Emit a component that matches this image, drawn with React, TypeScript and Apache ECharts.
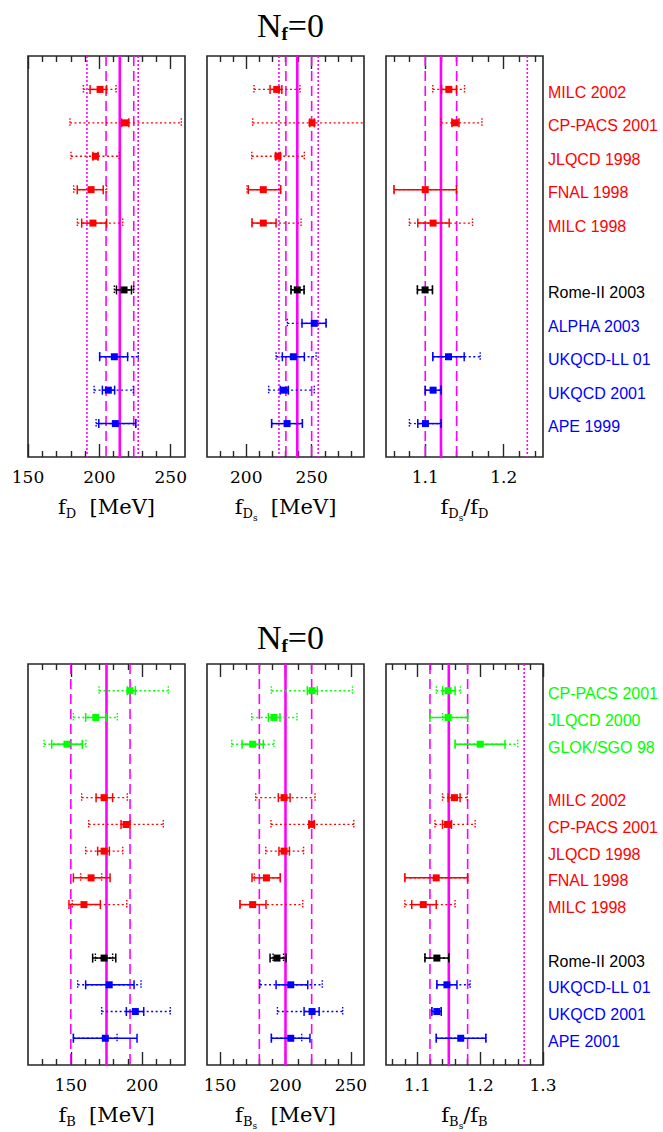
import React, { useEffect, useRef } from "react";
import * as echarts from "echarts";

// ---------------- DATA ----------------
// rows (slot index from the top of each panel)
const topNames = ["MILC 2002", "CP-PACS 2001", "JLQCD 1998", "FNAL 1998", "MILC 1998", "Rome-II 2003", "ALPHA 2003", "UKQCD-LL 01", "UKQCD 2001", "APE 1999"];
const topRows = [1, 2, 3, 4, 5, 7, 8, 9, 10, 11];
const topGroups = ["r", "r", "r", "r", "r", "k", "b", "b", "b", "b"];

const botNames = ["CP-PACS 2001", "JLQCD 2000", "GLOK/SGO 98", "MILC 2002", "CP-PACS 2001", "JLQCD 1998", "FNAL 1998", "MILC 1998", "Rome-II 2003", "UKQCD-LL 01", "UKQCD 2001", "APE 2001"];
const botRows = [1, 2, 3, 5, 6, 7, 8, 9, 11, 12, 13, 14];
const botGroups = ["g", "g", "g", "r", "r", "r", "r", "r", "k", "b", "b", "b"];

// each entry: [central, stat low, stat high, total low, total high] (null = no result)
const fD = [
  [200.5, 193.5, 205.1, 188.8, 211.7],
  [218.2, 215.6, 220.7, 179.4, 257.4],
  [197.2, 195.5, 199.0, 180.1, 214.0],
  [194.2, 184.5, 202.7, 182.0, 205.1],
  [195.5, 187.6, 205.1, 184.6, 216.4],
  [217.3, 212.0, 222.5, 210.5, 224.0],
  null,
  [210.5, 200.2, 219.8, 200.2, 227.3],
  [206.3, 202.1, 210.7, 196.3, 223.8],
  [211.2, 199.6, 225.5, 197.7, 225.5],
];
const fDs = [
  [223.3, 218.2, 227.2, 205.9, 241.1],
  [250.3, 248.5, 252.0, 204.9, 295.0],
  [224.3, 222.5, 226.0, 204.2, 244.4],
  [213.0, 201.6, 226.3, 200.6, 226.3],
  [213.0, 204.4, 222.8, 204.4, 241.9],
  [239.0, 234.2, 244.2, 234.2, 244.2],
  [252.0, 242.6, 261.0, 231.4, 261.0],
  [236.0, 227.6, 244.4, 222.8, 253.4],
  [229.1, 226.0, 232.2, 217.1, 252.0],
  [231.2, 219.4, 242.9, 219.4, 242.9],
];
const fDsOverfD = [
  [1.130, 1.1207, 1.1398, 1.1096, 1.150],
  [1.138, 1.134, 1.143, 1.1202, 1.1722],
  null,
  [1.100, 1.0602, 1.1398, 1.0602, 1.1398],
  [1.110, 1.0905, 1.1305, 1.0798, 1.1602],
  [1.0998, 1.090, 1.1092, 1.090, 1.1092],
  null,
  [1.1296, 1.1096, 1.1496, 1.1096, 1.170],
  [1.110, 1.100, 1.1202, 1.100, 1.1202],
  [1.1002, 1.0905, 1.1202, 1.0798, 1.1202],
];
const fB = [
  [191.5, 189.6, 195.2, 169.8, 218.3],
  [167.5, 160.4, 174.7, 151.8, 182.6],
  [147.3, 136.6, 158.0, 131.2, 160.6],
  [173.3, 167.7, 179.3, 157.6, 189.6],
  [188.7, 185.2, 191.5, 162.5, 214.8],
  [173.3, 168.8, 177.0, 160.4, 186.4],
  [164.2, 151.8, 177.5, 156.9, 171.6],
  [159.2, 148.7, 170.7, 151.0, 189.2],
  [173.3, 165.3, 181.5, 167.2, 179.3],
  [176.9, 160.4, 194.3, 154.8, 199.2],
  [195.2, 188.9, 201.1, 171.6, 219.7],
  [174.2, 151.8, 196.4, 151.8, 182.4],
];
const fBs = [
  [220.3, 216.7, 224.3, 189.2, 251.2],
  [191.2, 186.9, 195.8, 174.2, 208.8],
  [174.9, 166.8, 183.0, 158.9, 191.2],
  [198.9, 194.5, 203.5, 177.2, 222.6],
  [220.0, 218.0, 222.0, 188.9, 252.2],
  [198.9, 195.0, 203.0, 184.9, 213.8],
  [185.4, 174.4, 196.0, 176.2, 196.0],
  [174.9, 165.2, 185.1, 165.2, 213.2],
  [193.5, 188.2, 200.4, 190.5, 198.5],
  [204.0, 192.8, 217.0, 180.5, 228.1],
  [220.3, 214.2, 225.7, 193.8, 243.7],
  [204.0, 189.2, 218.7, 189.2, 212.4],
];
const fBsOverfB = [
  [1.149, 1.140, 1.160, 1.130, 1.1685],
  [1.149, 1.120, 1.180, 1.140, 1.180],
  [1.200, 1.160, 1.2395, 1.160, 1.2597],
  [1.159, 1.149, 1.168, 1.140, 1.1795],
  [1.148, 1.140, 1.1543, 1.128, 1.192],
  null,
  [1.130, 1.080, 1.180, 1.080, 1.180],
  [1.1094, 1.091, 1.130, 1.080, 1.160],
  [1.131, 1.112, 1.150, 1.112, 1.150],
  [1.147, 1.131, 1.163, 1.131, 1.184],
  [1.131, 1.123, 1.138, 1.123, 1.138],
  [1.169, 1.130, 1.209, 1.130, 1.209],
];

// average lines: central, band (dashed), outer (dotted)
const fDCentral = 214.3, fDBand = [204.7, 224.1], fDOuter = [191.3, 227.2];
const fDsCentral = 239, fDsBand = [230.3, 250], fDsOuter = [225, 255];
const fDsfDCentral = 1.12, fDsfDBand = [1.10, 1.14], fDsfDOuter = [1.23];
const fBCentral = 175, fBBand = [150, 191.5], fBOuter: number[] = [];
const fBsCentral = 200, fBsBand = [180, 220], fBsOuter: number[] = [];
const fBsfBCentral = 1.15, fBsfBBand = [1.12, 1.18], fBsfBOuter = [1.27];

// tick labels / ticks
const fDMajor = [150, 200, 250], fDMinor = [160, 170, 180, 190, 210, 220, 230, 240];
const fDsMajor = [200, 250], fDsMinor = [180, 190, 210, 220, 230, 240, 260, 270, 280];
const rDMajor = [1.1, 1.2], rDMinor = [1.06, 1.08, 1.12, 1.14, 1.16, 1.18, 1.22, 1.24];
const fBMajor = [150, 200], fBMinor = [130, 140, 160, 170, 180, 190, 210, 220];
const fBsMajor = [150, 200, 250], fBsMinor = [160, 170, 180, 190, 210, 220, 230, 240];
const rBMajor = [1.1, 1.2, 1.3], rBMinor = [1.06, 1.08, 1.12, 1.14, 1.16, 1.18, 1.22, 1.24, 1.26, 1.28];

// ---------------- STYLE ----------------
const COLORS: Record<string, string> = { r: "#ff0000", k: "#000000", b: "#0000ff", g: "#00ff00" };
const MAG = "#ff00ff";
const FRAME = "#262626";
const SERIF = "DejaVu Serif";
const SANS = "Liberation Sans";

const nameRich = {
  m: { fontFamily: SERIF, fontSize: 21, lineHeight: 30, color: "#000" },
  s: { fontFamily: SERIF, fontSize: 13, lineHeight: 30, padding: [13, 0, 0, 0], color: "#000" },
  ss: { fontFamily: SERIF, fontSize: 9, lineHeight: 30, padding: [21, 0, 0, 0], color: "#000" },
};

const panels = [
  { left: 28, top: 56, min: 150, max: 260, rowsMax: 12, majors: fDMajor, minors: fDMinor, data: fD, rows: topRows, groups: topGroups, names: null as any, central: fDCentral, band: fDBand, outer: fDOuter, name: "{m|f}{s|D}{m|  [MeV]}" },
  { left: 207, top: 56, min: 170, max: 290, rowsMax: 12, majors: fDsMajor, minors: fDsMinor, data: fDs, rows: topRows, groups: topGroups, names: null, central: fDsCentral, band: fDsBand, outer: fDsOuter, name: "{m|f}{s|D}{ss|s}{m|  [MeV]}" },
  { left: 386, top: 56, min: 1.05, max: 1.25, rowsMax: 12, majors: rDMajor, minors: rDMinor, data: fDsOverfD, rows: topRows, groups: topGroups, names: topNames, central: fDsfDCentral, band: fDsfDBand, outer: fDsfDOuter, name: "{m|f}{s|D}{ss|s}{m|/f}{s|D}" },
  { left: 28, top: 664, min: 120, max: 230, rowsMax: 15, majors: fBMajor, minors: fBMinor, data: fB, rows: botRows, groups: botGroups, names: null, central: fBCentral, band: fBBand, outer: fBOuter, name: "{m|f}{s|B}{m|  [MeV]}" },
  { left: 207, top: 664, min: 140, max: 260, rowsMax: 15, majors: fBsMajor, minors: fBsMinor, data: fBs, rows: botRows, groups: botGroups, names: null, central: fBsCentral, band: fBsBand, outer: fBsOuter, name: "{m|f}{s|B}{ss|s}{m|  [MeV]}" },
  { left: 386, top: 664, min: 1.05, max: 1.30, rowsMax: 15, majors: rBMajor, minors: rBMinor, data: fBsOverfB, rows: botRows, groups: botGroups, names: botNames, central: fBsfBCentral, band: fBsfBBand, outer: fBsfBOuter, name: "{m|f}{s|B}{ss|s}{m|/f}{s|B}" },
];

function buildOption() {
  const grid: any[] = [];
  const xAxis: any[] = [];
  const yAxis: any[] = [];
  const series: any[] = [];

  panels.forEach((p, g) => {
    grid.push({ left: p.left, top: p.top, width: 157, height: 401, show: true, borderColor: FRAME, borderWidth: 1.6, backgroundColor: "transparent" });
    const base = { type: "value", gridIndex: g, min: p.min, max: p.max, splitLine: { show: false }, axisLine: { show: false, onZero: false } };
    const tickStyle = { color: FRAME, width: 1.4 };
    xAxis.push({
      ...base, position: "bottom",
      axisTick: { show: true, inside: true, length: 13, customValues: p.majors, lineStyle: tickStyle },
      axisLabel: { show: true, customValues: p.majors, formatter: (v: number) => String(v), fontFamily: SERIF, fontSize: 17, color: "#000", margin: 11 },
      name: p.name, nameLocation: "middle", nameGap: 35,
      nameTextStyle: { rich: nameRich },
    });
    xAxis.push({ ...base, position: "bottom", axisTick: { show: true, inside: true, length: 6, customValues: p.minors, lineStyle: tickStyle }, axisLabel: { show: false } });
    xAxis.push({ ...base, position: "top", axisTick: { show: true, inside: true, length: 13, customValues: p.majors, lineStyle: tickStyle }, axisLabel: { show: false } });
    xAxis.push({ ...base, position: "top", axisTick: { show: true, inside: true, length: 6, customValues: p.minors, lineStyle: tickStyle }, axisLabel: { show: false } });

    const names = p.names;
    const lab = (c: string) => ({ color: c, fontFamily: SANS, fontSize: 16, lineHeight: 22, padding: [6, 0, 0, 0] });
    yAxis.push({
      type: "value", gridIndex: g, min: 0, max: p.rowsMax, inverse: true, position: "right",
      show: !!names,
      axisLine: { show: false, onZero: false }, axisTick: { show: false }, splitLine: { show: false },
      axisLabel: names ? {
        show: true, customValues: p.rows, margin: 5,
        formatter: (v: number) => {
          const i = p.rows.indexOf(v);
          return i < 0 ? "" : `{${p.groups[i]}|${names[i]}}`;
        },
        rich: { r: lab(COLORS.r), k: lab(COLORS.k), b: lab(COLORS.b), g: lab(COLORS.g) },
      } : { show: false },
    });

    // vertical average lines
    const vlines: number[][] = [[p.central, 0]];
    p.band.forEach((v) => vlines.push([v, 1]));
    p.outer.forEach((v) => vlines.push([v, 2]));
    series.push({
      type: "custom", xAxisIndex: g * 4, yAxisIndex: g, z: 1, clip: true, silent: true,
      data: vlines,
      encode: { x: 0 },
      renderItem: (params: any, api: any) => {
        const v = api.value(0);
        const kind = api.value(1);
        const a = api.coord([v, 0]);
        const b = api.coord([v, p.rowsMax]);
        const style: any = { stroke: MAG, lineWidth: kind === 0 ? 2.6 : 1.6, fill: null };
        if (kind === 1) style.lineDash = [10, 5];
        if (kind === 2) style.lineDash = [2, 2];
        return { type: "line", shape: { x1: a[0], y1: a[1], x2: b[0], y2: b[1] }, style };
      },
    });

    // error bars
    const items: any[] = [];
    p.data.forEach((d, i) => {
      if (!d) return;
      items.push([d[0], p.rows[i], d[1], d[2], d[3], d[4], i]);
    });
    series.push({
      type: "custom", xAxisIndex: g * 4, yAxisIndex: g, z: 5, clip: true, silent: true,
      data: items,
      encode: { x: 0, y: 1 },
      renderItem: (params: any, api: any) => {
        const c = api.value(0), row = api.value(1);
        const sLo = api.value(2), sHi = api.value(3), tLo = api.value(4), tHi = api.value(5);
        const gi = api.value(6);
        const color = COLORS[p.groups[gi]];
        const children: any[] = [];
        const capH = 4.5;
        const dotted = { stroke: color, lineWidth: 1.4, lineDash: [2, 2.5], fill: null };
        const solid = { stroke: color, lineWidth: 1.5, fill: null };
        const tl = api.coord([tLo, row]), th = api.coord([tHi, row]);
        children.push({ type: "line", shape: { x1: tl[0], y1: tl[1], x2: th[0], y2: th[1] }, style: dotted });
        [tl, th].forEach((pt) => children.push({ type: "line", shape: { x1: pt[0], y1: pt[1] - capH, x2: pt[0], y2: pt[1] + capH }, style: { ...dotted, lineDash: [1.5, 1.5] } }));
        const sl = api.coord([sLo, row]), sh = api.coord([sHi, row]);
        children.push({ type: "line", shape: { x1: sl[0], y1: sl[1], x2: sh[0], y2: sh[1] }, style: solid });
        [sl, sh].forEach((pt) => children.push({ type: "line", shape: { x1: pt[0], y1: pt[1] - capH, x2: pt[0], y2: pt[1] + capH }, style: solid }));
        const pc = api.coord([c, row]);
        children.push({ type: "rect", shape: { x: pc[0] - 3.5, y: pc[1] - 3.5, width: 7, height: 7 }, style: { fill: color } });
        return { type: "group", children };
      },
    });
  });

  const titleRich = {
    n: { fontFamily: "Liberation Serif", fontSize: 34, fontWeight: "normal", lineHeight: 44, color: "#000" },
    s: { fontFamily: "Liberation Serif", fontSize: 19, fontWeight: "bold", lineHeight: 44, padding: [16, 0, 0, 0], color: "#000" },
  };
  const title = [
    { text: "{n|N}{s|f}{n|=0}", left: 285.5, top: -2, textAlign: "center", textStyle: { fontWeight: "normal", rich: titleRich } },
    { text: "{n|N}{s|f}{n|=0}", left: 285.5, top: 610, textAlign: "center", textStyle: { fontWeight: "normal", rich: titleRich } },
  ];

  return { animation: false, backgroundColor: "#ffffff", title, grid, xAxis, yAxis, series };
}

export default function App() {
  const ref = useRef<HTMLDivElement>(null);
  useEffect(() => {
    if (!ref.current) return;
    const chart = echarts.init(ref.current, undefined, { renderer: "svg" });
    chart.setOption(buildOption() as any);
    return () => chart.dispose();
  }, []);
  return <div ref={ref} style={{ position: "fixed", left: 0, top: 0, width: 663, height: 1132, background: "#fff" }} />;
}
